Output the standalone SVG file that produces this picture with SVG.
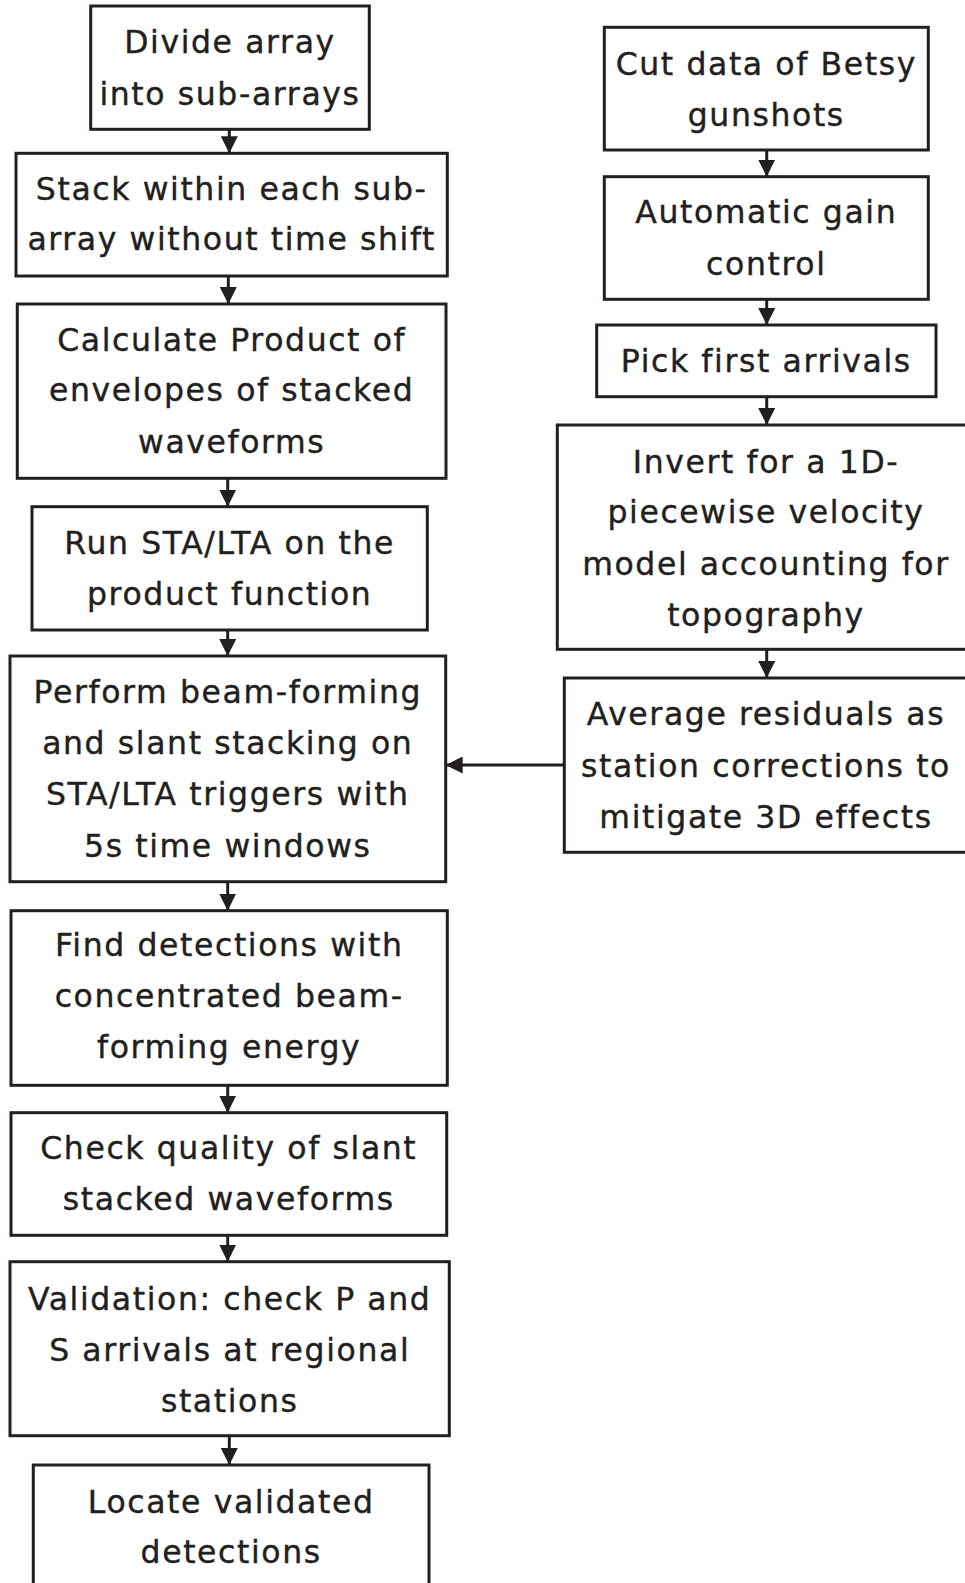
<svg xmlns="http://www.w3.org/2000/svg" width="965" height="1583" viewBox="0 0 965 1583">
<style>
.box{fill:#fff;stroke:#231f20;stroke-width:3}
.t{font-family:"DejaVu Sans",Lato,sans-serif;font-size:31.5px;letter-spacing:1.6px;fill:#231f20;stroke:#231f20;stroke-width:0.4;text-anchor:middle}
.c{stroke:#231f20;stroke-width:3;fill:none;marker-end:url(#ah)}
</style>
<defs>
<marker id="ah" markerUnits="userSpaceOnUse" markerWidth="17" markerHeight="17" viewBox="0 0 17 17" refX="17" refY="8.5" orient="auto">
<path d="M0,0 L17,8.5 L0,17 z" fill="#231f20"/>
</marker>
</defs>
<rect width="965" height="1583" fill="#fff"/>
<g id="connectors">
<line class="c" x1="229.3" y1="129.3" x2="229.3" y2="153.3"/>
<line class="c" x1="228.3" y1="276" x2="228.3" y2="304"/>
<line class="c" x1="227.7" y1="478.3" x2="227.7" y2="506.7"/>
<line class="c" x1="227.7" y1="630" x2="227.7" y2="656"/>
<line class="c" x1="227.7" y1="881.7" x2="227.7" y2="910.7"/>
<line class="c" x1="227.7" y1="1085.3" x2="227.7" y2="1112.7"/>
<line class="c" x1="227.7" y1="1235.3" x2="227.7" y2="1261.7"/>
<line class="c" x1="229.3" y1="1435.7" x2="229.3" y2="1465"/>
<line class="c" x1="766.7" y1="150" x2="766.7" y2="176.7"/>
<line class="c" x1="766.7" y1="299.3" x2="766.7" y2="325"/>
<line class="c" x1="766.7" y1="396.7" x2="766.7" y2="425"/>
<line class="c" x1="766.7" y1="649.3" x2="766.7" y2="678"/>
<line class="c" x1="564.3" y1="765" x2="445.7" y2="765"/>
</g>
<g id="n1"><rect class="box" x="90.7" y="6" width="278.6" height="123.3"/>
<text class="t" x="230" y="53.3">Divide array</text><text class="t" x="230" y="105">into sub-arrays</text></g>
<g id="n2"><rect class="box" x="16" y="153.3" width="431.3" height="122.7"/>
<text class="t" x="231.7" y="200">Stack within each sub-</text><text class="t" x="231.7" y="250">array without time shift</text></g>
<g id="n3"><rect class="box" x="17.3" y="304" width="428.7" height="174.3"/>
<text class="t" x="231.7" y="350.7">Calculate Product of</text><text class="t" x="231.7" y="400.7">envelopes of stacked</text><text class="t" x="231.7" y="452.7">waveforms</text></g>
<g id="n4"><rect class="box" x="32" y="506.7" width="395.3" height="123.3"/>
<text class="t" x="229.7" y="554">Run STA/LTA on the</text><text class="t" x="229.7" y="605">product function</text></g>
<g id="n5"><rect class="box" x="10" y="656" width="435.7" height="225.7"/>
<text class="t" x="227.8" y="702.7">Perform beam-forming</text><text class="t" x="227.8" y="754">and slant stacking on</text><text class="t" x="227.8" y="805">STA/LTA triggers with</text><text class="t" x="227.8" y="856.7">5s time windows</text></g>
<g id="n6"><rect class="box" x="11" y="910.7" width="436.3" height="174.6"/>
<text class="t" x="229.2" y="956">Find detections with</text><text class="t" x="229.2" y="1006.7">concentrated beam-</text><text class="t" x="229.2" y="1058.3">forming energy</text></g>
<g id="n7"><rect class="box" x="11" y="1112.7" width="435.7" height="122.6"/>
<text class="t" x="228.8" y="1159.3">Check quality of slant</text><text class="t" x="228.8" y="1210">stacked waveforms</text></g>
<g id="n8"><rect class="box" x="10" y="1261.7" width="439.3" height="174"/>
<text class="t" x="229.7" y="1310">Validation: check P and</text><text class="t" x="229.7" y="1360.7">S arrivals at regional</text><text class="t" x="229.7" y="1411.7">stations</text></g>
<g id="n9"><rect class="box" x="33.3" y="1465" width="395.7" height="140"/>
<text class="t" x="231.2" y="1512.7">Locate validated</text><text class="t" x="231.2" y="1563.3">detections</text></g>
<g id="r1"><rect class="box" x="604.3" y="27.3" width="324" height="122.7"/>
<text class="t" x="766.3" y="75">Cut data of Betsy</text><text class="t" x="766.3" y="126">gunshots</text></g>
<g id="r2"><rect class="box" x="604.3" y="176.7" width="324" height="122.6"/>
<text class="t" x="766.3" y="222.7">Automatic gain</text><text class="t" x="766.3" y="275">control</text></g>
<g id="r3"><rect class="box" x="596.7" y="325" width="339.3" height="71.7"/>
<text class="t" x="766.3" y="371.7">Pick first arrivals</text></g>
<g id="r4"><rect class="box" x="557.3" y="425" width="417.7" height="224.3"/>
<text class="t" x="766" y="472.7">Invert for a 1D-</text><text class="t" x="766" y="522.7">piecewise velocity</text><text class="t" x="766" y="575">model accounting for</text><text class="t" x="766" y="626">topography</text></g>
<g id="r5"><rect class="box" x="564.3" y="678" width="403.7" height="174.3"/>
<text class="t" x="766" y="725">Average residuals as</text><text class="t" x="766" y="776.7">station corrections to</text><text class="t" x="766" y="827.7">mitigate 3D effects</text></g>
</svg>
